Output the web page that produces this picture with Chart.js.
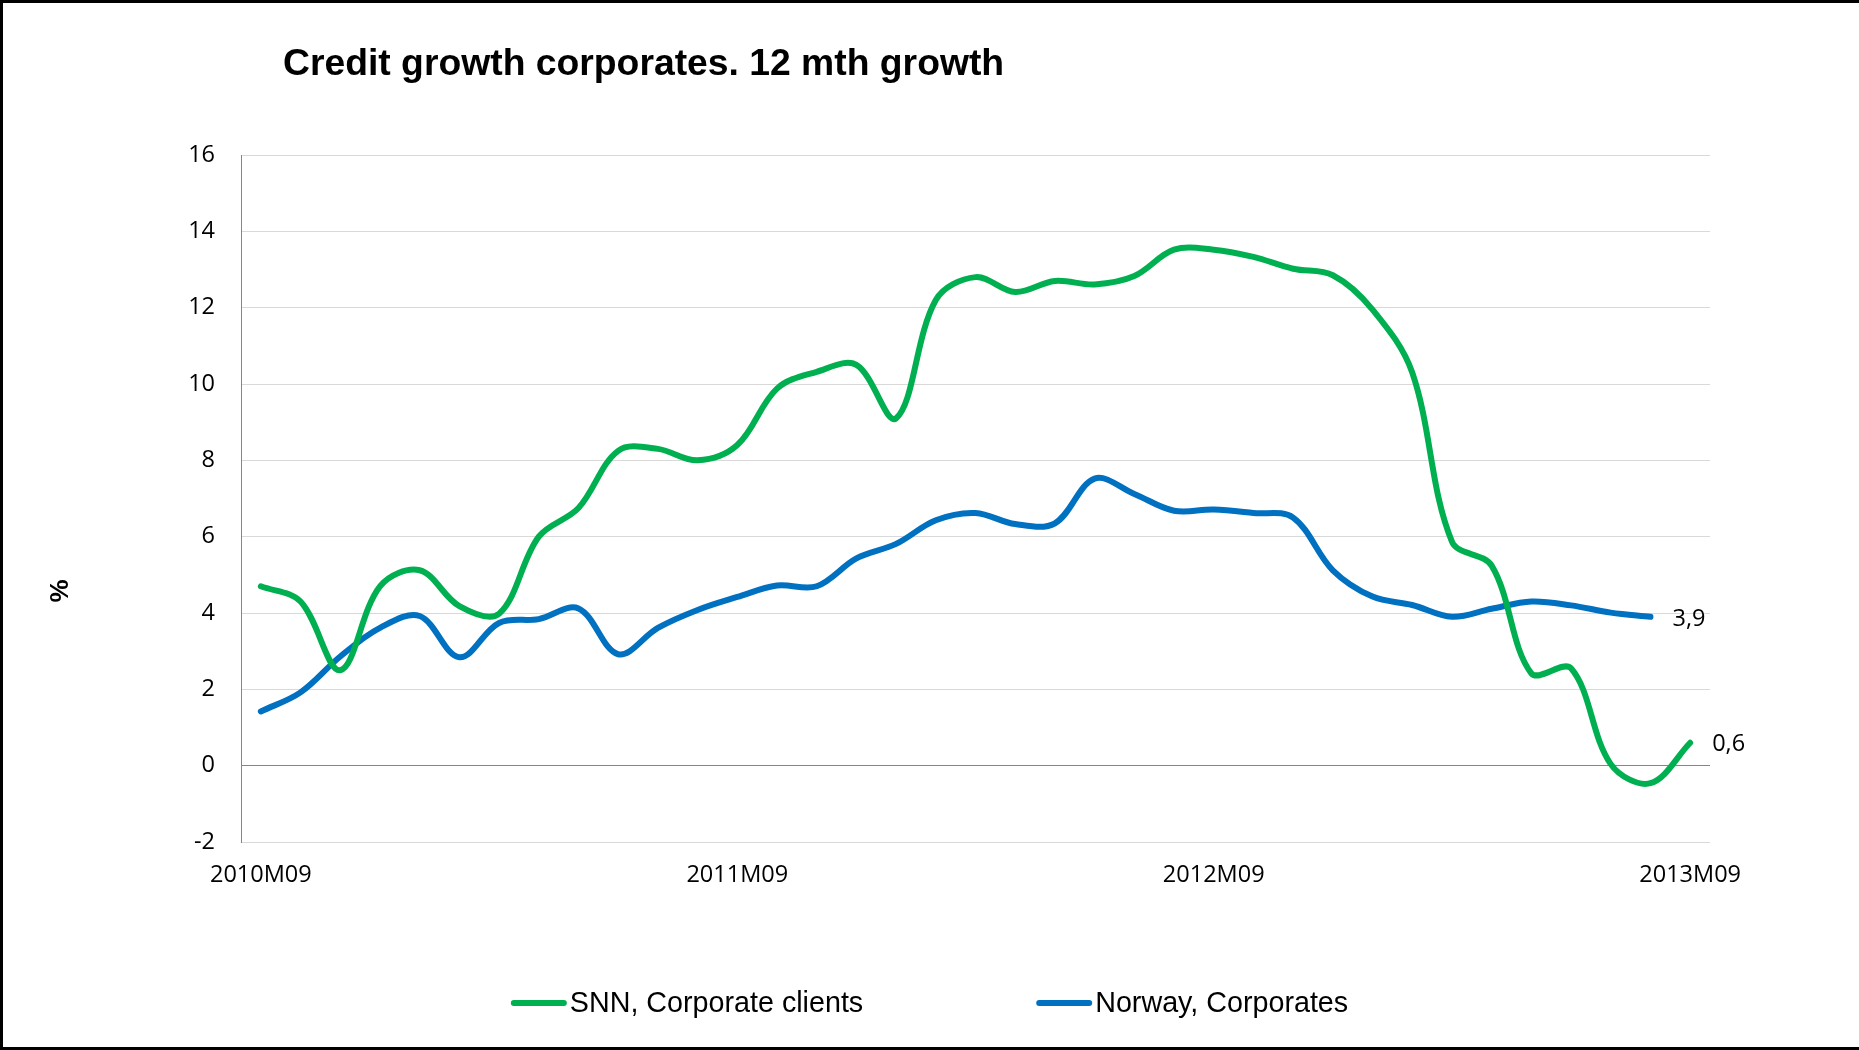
<!DOCTYPE html>
<html>
<head>
<meta charset="utf-8">
<title>Credit growth corporates</title>
<script src="https://cdn.jsdelivr.net/npm/chart.js@4.4.1/dist/chart.umd.min.js"></script>
<style>
  html, body { margin: 0; padding: 0; background: #fff; }
  #wrap { width: 1859px; height: 1050px; position: relative; }
</style>
</head>
<body>
<div id="wrap"><canvas id="chart"></canvas></div>
<script>
const months = [
  '2010M09', '2010M10', '2010M11', '2010M12',
  '2011M01', '2011M02', '2011M03', '2011M04', '2011M05', '2011M06',
  '2011M07', '2011M08', '2011M09', '2011M10', '2011M11', '2011M12',
  '2012M01', '2012M02', '2012M03', '2012M04', '2012M05', '2012M06',
  '2012M07', '2012M08', '2012M09', '2012M10', '2012M11', '2012M12',
  '2013M01', '2013M02', '2013M03', '2013M04', '2013M05', '2013M06',
  '2013M07', '2013M08', '2013M09'
];
const tickLabels = ['2010M09', '2011M09', '2012M09', '2013M09'];

// 12 month growth, %
const snnCorporate = [
  4.70, 4.30, 2.50, 4.70, 5.12, 4.18, 3.98, 6.00, 6.75, 8.25,
  8.30, 8.00, 8.40, 9.88, 10.32, 10.50, 9.10, 12.20, 12.80, 12.41,
  12.70, 12.61, 12.83, 13.52, 13.52, 13.33, 13.02, 12.85, 11.95, 10.30,
  5.87, 5.24, 2.42, 2.55, 0.04, -0.46, 0.6
];
const norwayCorporates = [
  1.42, 1.92, 2.86, 3.61, 3.92, 2.84, 3.74, 3.84, 4.12, 2.92,
  3.61, 4.08, 4.42, 4.72, 4.70, 5.43, 5.81, 6.43, 6.62, 6.33,
  6.35, 7.52, 7.12, 6.68, 6.71, 6.62, 6.50, 5.12, 4.43, 4.21,
  3.90, 4.11, 4.30, 4.20, 4.01, 3.9, null
];
const seriesNames = ['SNN, Corporate clients', 'Norway, Corporates'];

const GREEN = '#00b050';
const BLUE = '#0070c0';
const AXIS_GREY = '#868686';
const GRID_GREY = '#d9d9d9';
const TICK_FONT = { family: "'Open Sans', sans-serif", size: 23.5 };
const LABEL_FAMILY = '"Liberation Sans", Arial, sans-serif';

// title, axis caption, legend, end labels and frame
const decorations = {
  id: 'decorations',
  afterDatasetsDraw(chart) {
    const ctx = chart.ctx;
    ctx.save();
    ctx.font = `${TICK_FONT.size}px ${TICK_FONT.family}`;
    ctx.fillStyle = '#000';
    ctx.textAlign = 'left';
    ctx.textBaseline = 'middle';
    chart.data.datasets.forEach((ds, i) => {
      let last = ds.data.length - 1;
      while (last >= 0 && ds.data[last] == null) last--;
      const pt = chart.getDatasetMeta(i).data[last];
      const text = ds.data[last].toFixed(1).replace('.', ',');
      ctx.fillText(text, pt.x + 22, pt.y + 2);
    });
    ctx.restore();
  },
  afterDraw(chart) {
    const ctx = chart.ctx;
    const W = chart.width, H = chart.height;
    ctx.save();

    ctx.fillStyle = '#000';
    ctx.textBaseline = 'alphabetic';
    ctx.textAlign = 'left';
    ctx.font = `bold 37.3px ${LABEL_FAMILY}`;
    ctx.fillText('Credit growth corporates. 12 mth growth', 283, 75);

    // y axis caption
    ctx.save();
    ctx.translate(61, 591);
    ctx.rotate(-Math.PI / 2);
    ctx.font = `bold 26px ${LABEL_FAMILY}`;
    ctx.textAlign = 'center';
    ctx.textBaseline = 'middle';
    ctx.fillText('%', 0, 0);
    ctx.restore();

    // legend
    ctx.font = `28.7px ${LABEL_FAMILY}`;
    const sample = 56, gap = 3, spacing = 173;
    const items = chart.data.datasets.map(ds => ({
      text: ds.label,
      color: ds.borderColor,
      width: sample + gap + ctx.measureText(ds.label).width
    }));
    const total = items.reduce((s, it) => s + it.width, 0) + spacing * (items.length - 1);
    let x = (W - total) / 2;
    const baseline = 1012, lineY = 1003;
    items.forEach(it => {
      ctx.strokeStyle = it.color;
      ctx.lineWidth = 6;
      ctx.lineCap = 'round';
      ctx.beginPath();
      ctx.moveTo(x + 3, lineY);
      ctx.lineTo(x + sample - 3, lineY);
      ctx.stroke();
      ctx.fillStyle = '#000';
      ctx.fillText(it.text, x + sample + gap, baseline);
      x += it.width + spacing;
    });

    // outer frame
    ctx.fillStyle = '#000';
    ctx.fillRect(0, 0, W, 3);
    ctx.fillRect(0, 0, 3, H);
    ctx.fillRect(0, H - 3, W, 3);
    ctx.restore();
  }
};

const data = {
  labels: months,
  datasets: [
    {
      label: seriesNames[0],
      data: snnCorporate,
      borderColor: GREEN,
      backgroundColor: GREEN,
    },
    {
      label: seriesNames[1],
      data: norwayCorporates,
      borderColor: BLUE,
      backgroundColor: BLUE,
    },
  ],
};

const config = {
  type: 'line',
  data,
  plugins: [decorations],
  options: {
    responsive: true,
    maintainAspectRatio: false,
    animation: false,
    devicePixelRatio: 1,
    layout: {
      padding: { top: 155, right: 149, bottom: 0, left: 0 },
    },
    elements: {
      line: {
        borderWidth: 6,
        tension: 0.35,
        borderCapStyle: 'round',
        borderJoinStyle: 'round',
        fill: false,
      },
      point: { radius: 0, hoverRadius: 0 },
    },
    plugins: {
      legend: { display: false },
      title: { display: false },
      tooltip: { enabled: false },
    },
    scales: {
      x: {
        type: 'category',
        offset: true,
        afterFit: (scale) => { scale.height = 208; },
        grid: { display: false, drawTicks: false },
        border: { display: false },
        ticks: {
          autoSkip: false,
          maxRotation: 0,
          minRotation: 0,
          padding: 19,
          color: '#000',
          font: TICK_FONT,
          callback: (value, index) => tickLabels.includes(months[index]) ? months[index] : '',
        },
      },
      y: {
        min: -2,
        max: 16,
        afterFit: (scale) => { scale.width = 241; },
        grid: {
          drawTicks: false,
          lineWidth: 1,
          color: (ctx) => ctx.tick && ctx.tick.value === 0 ? AXIS_GREY : GRID_GREY,
        },
        border: { display: true, color: AXIS_GREY, width: 1 },
        ticks: {
          stepSize: 2,
          padding: 26,
          color: '#000',
          font: TICK_FONT,
        },
      },
    },
  },
};

document.getElementById('wrap').style.height = '1050px';
const chart = new Chart(document.getElementById('chart'), config);
</script>
</body>
</html>
